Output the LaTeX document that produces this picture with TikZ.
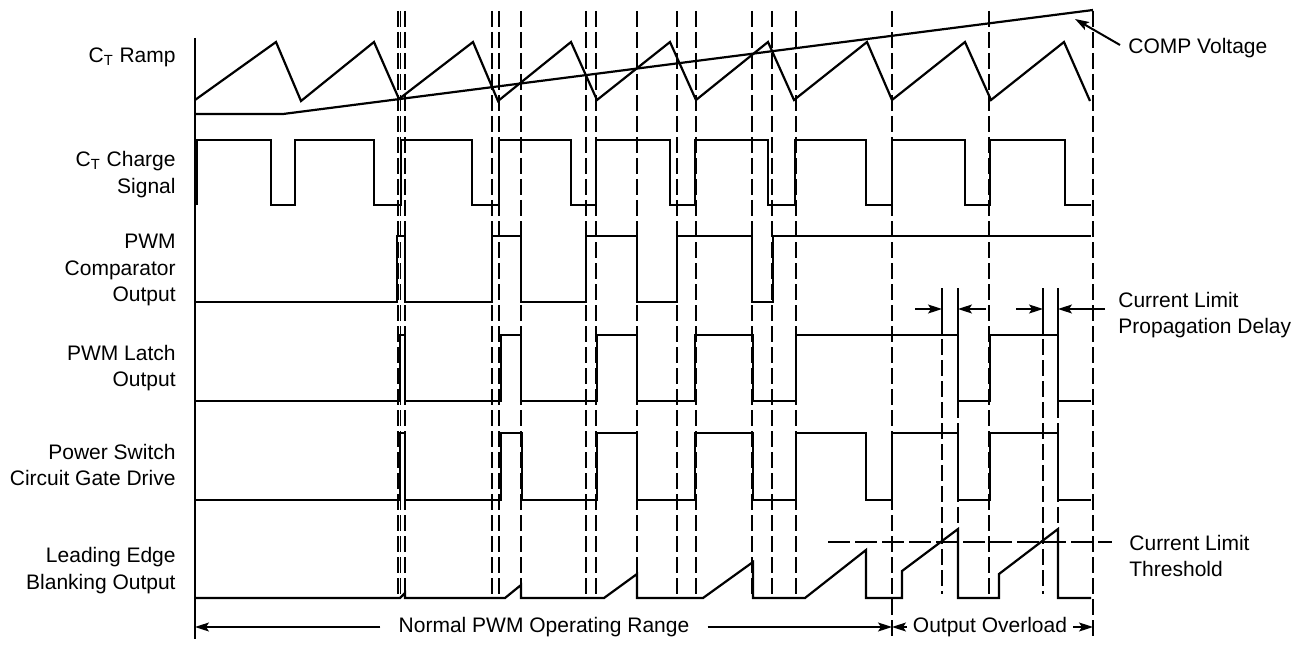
\documentclass[tikz,border=0pt]{standalone}
\usepackage{fontspec}
\setmainfont{Liberation Sans}
\usetikzlibrary{arrows.meta}

\begin{document}
\begin{tikzpicture}[x=0.5pt,y=-0.5pt,font=\fontsize{10.5}{13.25}\selectfont,
    segnale/.style={line width=1.1pt},
    guida/.style={line width=0.7pt,dash pattern=on 8pt off 2.5pt},
    soglia/.style={line width=0.7pt,dash pattern=on 11pt off 2.5pt},
    freccia/.style={line width=0.7pt},
    etichetta/.style={anchor=east,align=right,inner sep=0pt},
    nota/.style={anchor=west,align=left,inner sep=0pt},
    >={Stealth[length=7pt,width=4.5pt,inset=1.5pt]}]
    \useasboundingbox (0,0) rectangle (1307,647); % cornice

    % etichette dei segnali
    \node[etichetta] (ramp) at (176,57.5) {C\textsubscript{T} Ramp};
    \node[etichetta] (charge) at (176,174.5) {C\textsubscript{T} Charge\\Signal};
    \node[etichetta] (comparatore) at (176,270) {PWM\\Comparator\\Output};
    \node[etichetta] (latch) at (176,368) {PWM Latch\\Output};
    \node[etichetta] (gate) at (176,465) {Power Switch\\Circuit Gate Drive};
    \node[etichetta] (leb) at (176,570.5) {Leading Edge\\Blanking Output};

    % linee guida tratteggiate
    \foreach \t in {398,400.5,405,492,499,521,586,596,637,677,696,752,772,796,989}
        \draw[guida] (\t,11) -- (\t,594);
    \draw[guida] (892,11) -- (892,640); % inizio sovraccarico
    \draw[guida] (1093,11) -- (1093,640); % fine sovraccarico
    \foreach \t in {942,958,1043,1058} {
        \draw[freccia] (\t,288) -- (\t,318); % tacca ritardo
        \draw[guida] (\t,318) -- (\t,594);
    }
    \draw[soglia] (828,542) -- (1112,542); % soglia di corrente

    \draw[segnale] (195,38) -- (195,639); % asse verticale
    % rampa C_T
    \draw[segnale] (195,100) -- (276,42) -- (301,101) -- (374,42) -- (399,99)
        -- (473,42) -- (498,101) -- (571,42) -- (597,100) -- (670,42) -- (696,100)
        -- (768,42) -- (794,100) -- (867,42) -- (892,100) -- (965,42) -- (991,100)
        -- (1064,42) -- (1090,101);
    % tensione COMP
    \draw[segnale] (195,114) -- (283,114) -- (1093,10);
    % segnale di carica
    \draw[segnale] (197,205) -- (197,140) -- (271,140) -- (271,205) -- (295,205)
        -- (295,140) -- (374,140) -- (374,205) -- (401,205) -- (401,140) -- (472,140)
        -- (472,205) -- (499,205) -- (499,140) -- (571,140) -- (571,205) -- (596,205)
        -- (596,140) -- (670,140) -- (670,205) -- (695,205) -- (695,140) -- (768,140)
        -- (768,205) -- (795,205) -- (795,140) -- (866,140) -- (866,205) -- (892,205)
        -- (892,140) -- (965,140) -- (965,205) -- (990,205) -- (990,140) -- (1065,140)
        -- (1065,205) -- (1091,205);
    % uscita comparatore
    \draw[segnale] (195,302) -- (397,302) -- (397,236) -- (405,236) -- (405,302)
        -- (492,302) -- (492,236) -- (521,236) -- (521,302) -- (586,302) -- (586,236)
        -- (637,236) -- (637,302) -- (677,302) -- (677,236) -- (752,236) -- (752,302)
        -- (773,302) -- (773,236) -- (1091,236);
    % uscita latch
    \draw[segnale] (195,401) -- (400,401) -- (400,335) -- (405,335) -- (405,401)
        -- (501,401) -- (501,335) -- (521,335) -- (521,401) -- (597,401) -- (597,335)
        -- (637,335) -- (637,401) -- (695,401) -- (695,335) -- (753,335) -- (753,401)
        -- (796,401) -- (796,335) -- (958,335) -- (958,401) -- (990,401) -- (990,335)
        -- (1058,335) -- (1058,401) -- (1091,401);
    % pilotaggio gate
    \draw[segnale] (195,500) -- (400,500) -- (400,433) -- (405,433) -- (405,500)
        -- (501,500) -- (501,433) -- (522,433) -- (522,500) -- (597,500) -- (597,433)
        -- (637,433) -- (637,500) -- (695,500) -- (695,433) -- (753,433) -- (753,500)
        -- (796,500) -- (796,433) -- (866,433) -- (866,500) -- (892,500) -- (892,433)
        -- (958,433) -- (958,500) -- (990,500) -- (990,433) -- (1058,433) -- (1058,500)
        -- (1091,500);
    % uscita leading edge blanking
    \draw[segnale] (195,598) -- (400,598) -- (405,593) -- (405,598) -- (505,598)
        -- (521,585) -- (521,598) -- (604,598) -- (637,574) -- (637,598) -- (703,598)
        -- (753,562) -- (753,598) -- (805,598) -- (866,550) -- (866,598) -- (902,598)
        -- (902,571) -- (958,529) -- (958,598) -- (999,598) -- (999,574) -- (1058,529)
        -- (1058,598) -- (1091,598);

    % note a destra
    \node[nota] (comp) at (1128,48) {COMP Voltage};
    \coordinate (cv) at (1075,19);
    \draw[->,line width=1pt] ([xshift=-4pt,yshift=1.5pt]comp.west) -- (cv); % freccia COMP
    \node[nota] (ritardo) at (1118,315) {Current Limit\\Propagation Delay};
    \node[nota] (limite) at (1129,556) {Current Limit\\Threshold};

    % frecce del ritardo di propagazione
    \coordinate (a1) at (915,309); \coordinate (b1) at (942,309);
    \coordinate (a2) at (986,309); \coordinate (b2) at (958,309);
    \coordinate (a3) at (1016,309); \coordinate (b3) at (1043,309);
    \coordinate (a4) at (1105,309); \coordinate (b4) at (1058,309);
    \draw[->,freccia] (a1) -- (b1);
    \draw[->,freccia] (a2) -- (b2);
    \draw[->,freccia] (a3) -- (b3);
    \draw[->,freccia] (a4) -- (b4);

    % intervalli in basso
    \node[inner xsep=9pt,inner ysep=0pt] (normale) at (544,627) {Normal PWM Operating Range};
    \node[inner xsep=3pt,inner ysep=0pt] (sovraccarico) at (990,627) {Output Overload};
    \coordinate (n0) at (195,627); \coordinate (n1) at (892,627);
    \coordinate (s1) at (1093,627);
    \draw[->,freccia] (normale) -- (n0);
    \draw[->,freccia] (normale) -- (n1);
    \draw[->,freccia] (sovraccarico) -- (n1);
    \draw[->,freccia] (sovraccarico) -- (s1);
\end{tikzpicture}
\end{document}
